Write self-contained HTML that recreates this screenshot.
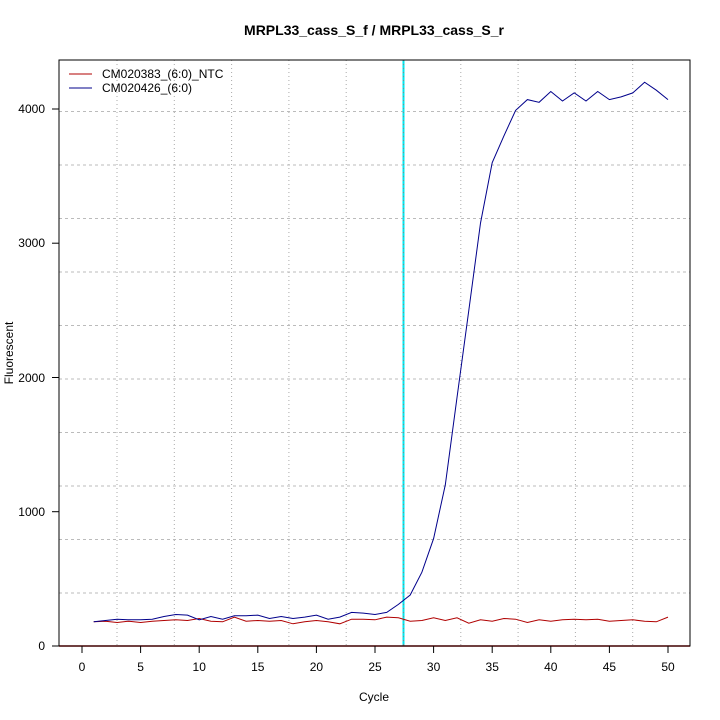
<!DOCTYPE html>
<html><head><meta charset="utf-8"><style>
html,body{margin:0;padding:0;background:#fff;}
svg{display:block;font-family:"Liberation Sans",sans-serif;}
</style></head><body>
<svg width="720" height="720" viewBox="0 0 720 720">
<rect width="720" height="720" fill="#fff"/>
<text x="374" y="35" font-size="14" font-weight="bold" text-anchor="middle">MRPL33_cass_S_f / MRPL33_cass_S_r</text>
<g stroke="#aaa" stroke-width="1" stroke-dasharray="1,3">
<line x1="117" y1="60" x2="117" y2="646"/><line x1="174.3" y1="60" x2="174.3" y2="646"/>
<line x1="231.6" y1="60" x2="231.6" y2="646"/><line x1="288.9" y1="60" x2="288.9" y2="646"/>
<line x1="346.2" y1="60" x2="346.2" y2="646"/>
<line x1="460.8" y1="60" x2="460.8" y2="646"/><line x1="518.1" y1="60" x2="518.1" y2="646"/>
<line x1="575.4" y1="60" x2="575.4" y2="646"/><line x1="632.7" y1="60" x2="632.7" y2="646"/>
</g>
<g stroke="#bbb" stroke-width="1" stroke-dasharray="3,3">
<line x1="59" y1="593" x2="690" y2="593"/><line x1="59" y1="539.5" x2="690" y2="539.5"/>
<line x1="59" y1="486" x2="690" y2="486"/><line x1="59" y1="432.5" x2="690" y2="432.5"/>
<line x1="59" y1="379" x2="690" y2="379"/><line x1="59" y1="325.5" x2="690" y2="325.5"/>
<line x1="59" y1="272" x2="690" y2="272"/><line x1="59" y1="218.5" x2="690" y2="218.5"/>
<line x1="59" y1="165" x2="690" y2="165"/><line x1="59" y1="111.5" x2="690" y2="111.5"/>
</g>
<line x1="403.5" y1="60" x2="403.5" y2="646" stroke="#00e5ee" stroke-width="2"/>
<line x1="403.5" y1="60" x2="403.5" y2="646" stroke="#888" stroke-width="1" stroke-dasharray="1,3"/>
<line x1="59" y1="646" x2="690" y2="646" stroke="#c00000" stroke-width="1.5"/>
<polyline fill="none" stroke="#b00000" stroke-width="1" points="93.7,621.8 105.4,621.2 117.2,622.5 128.9,621.2 140.6,622.5 152.3,621.2 164,620.5 175.8,619.8 187.5,620.5 199.2,618.5 210.9,621.2 222.6,621.8 234.4,617.1 246.1,621.2 257.8,620.5 269.5,621.2 281.2,620.5 293,623.8 304.7,621.8 316.4,620.5 328.1,621.8 339.8,623.8 351.6,619.2 363.3,619.2 375,619.8 386.7,617.1 398.4,617.8 410.2,621.2 421.9,620.5 433.6,617.8 445.3,620.5 457,617.8 468.8,623.2 480.5,619.8 492.2,621.2 503.9,618.5 515.6,619.2 527.4,622.5 539.1,619.8 550.8,621.2 562.5,619.8 574.2,619.2 586,619.8 597.7,619.2 609.4,621.2 621.1,620.5 632.8,619.8 644.6,621.2 656.3,621.8 668,617.1"/>
<polyline fill="none" stroke="#00008b" stroke-width="1" points="93.7,621.8 105.4,620.5 117.2,619.2 128.9,619.8 140.6,619.8 152.3,619.2 164,616.5 175.8,614.5 187.5,615.1 199.2,619.8 210.9,616.5 222.6,619.2 234.4,615.8 246.1,615.8 257.8,615.1 269.5,618.5 281.2,616.5 293,618.5 304.7,617.1 316.4,615.1 328.1,619.2 339.8,617.1 351.6,612.4 363.3,613.1 375,614.5 386.7,612.4 398.4,604.4 410.2,595 421.9,572.2 433.6,538.6 445.3,484.9 457,397.6 468.8,310.4 480.5,223.1 492.2,162.7 503.9,135.9 515.6,110.4 527.4,99.6 539.1,102.3 550.8,91.5 562.5,101 574.2,92.9 586,101 597.7,91.5 609.4,99.6 621.1,96.9 632.8,92.9 644.6,82.2 656.3,90.2 668,99.6"/>
<rect x="59" y="60" width="631" height="586" fill="none" stroke="#000" stroke-width="1"/>
<g stroke="#000" stroke-width="1">
<line x1="59" y1="646" x2="52" y2="646"/><line x1="59" y1="511.7" x2="52" y2="511.7"/>
<line x1="59" y1="377.5" x2="52" y2="377.5"/><line x1="59" y1="243.2" x2="52" y2="243.2"/>
<line x1="59" y1="109" x2="52" y2="109"/>
<line x1="82" y1="646" x2="82" y2="653"/><line x1="140.6" y1="646" x2="140.6" y2="653"/>
<line x1="199.2" y1="646" x2="199.2" y2="653"/><line x1="257.8" y1="646" x2="257.8" y2="653"/>
<line x1="316.4" y1="646" x2="316.4" y2="653"/><line x1="375" y1="646" x2="375" y2="653"/>
<line x1="433.6" y1="646" x2="433.6" y2="653"/><line x1="492.2" y1="646" x2="492.2" y2="653"/>
<line x1="550.8" y1="646" x2="550.8" y2="653"/><line x1="609.4" y1="646" x2="609.4" y2="653"/>
<line x1="668" y1="646" x2="668" y2="653"/>
</g>
<g font-size="12" text-anchor="end">
<text x="45" y="650">0</text><text x="45" y="516">1000</text><text x="45" y="382">2000</text>
<text x="45" y="247">3000</text><text x="45" y="113">4000</text>
</g>
<g font-size="12" text-anchor="middle">
<text x="82" y="671">0</text><text x="140.6" y="671">5</text><text x="199.2" y="671">10</text>
<text x="257.8" y="671">15</text><text x="316.4" y="671">20</text><text x="375" y="671">25</text>
<text x="433.6" y="671">30</text><text x="492.2" y="671">35</text><text x="550.8" y="671">40</text>
<text x="609.4" y="671">45</text><text x="668" y="671">50</text>
<text x="374" y="701">Cycle</text>
</g>
<text x="0" y="0" font-size="12" text-anchor="middle" transform="translate(13,353) rotate(-90)">Fluorescent</text>
<line x1="69" y1="74" x2="92" y2="74" stroke="#b00000"/>
<line x1="69" y1="88" x2="92" y2="88" stroke="#00008b"/>
<text x="102" y="78" font-size="12">CM020383_(6:0)_NTC</text>
<text x="102" y="92" font-size="12">CM020426_(6:0)</text>
</svg>
</body></html>
